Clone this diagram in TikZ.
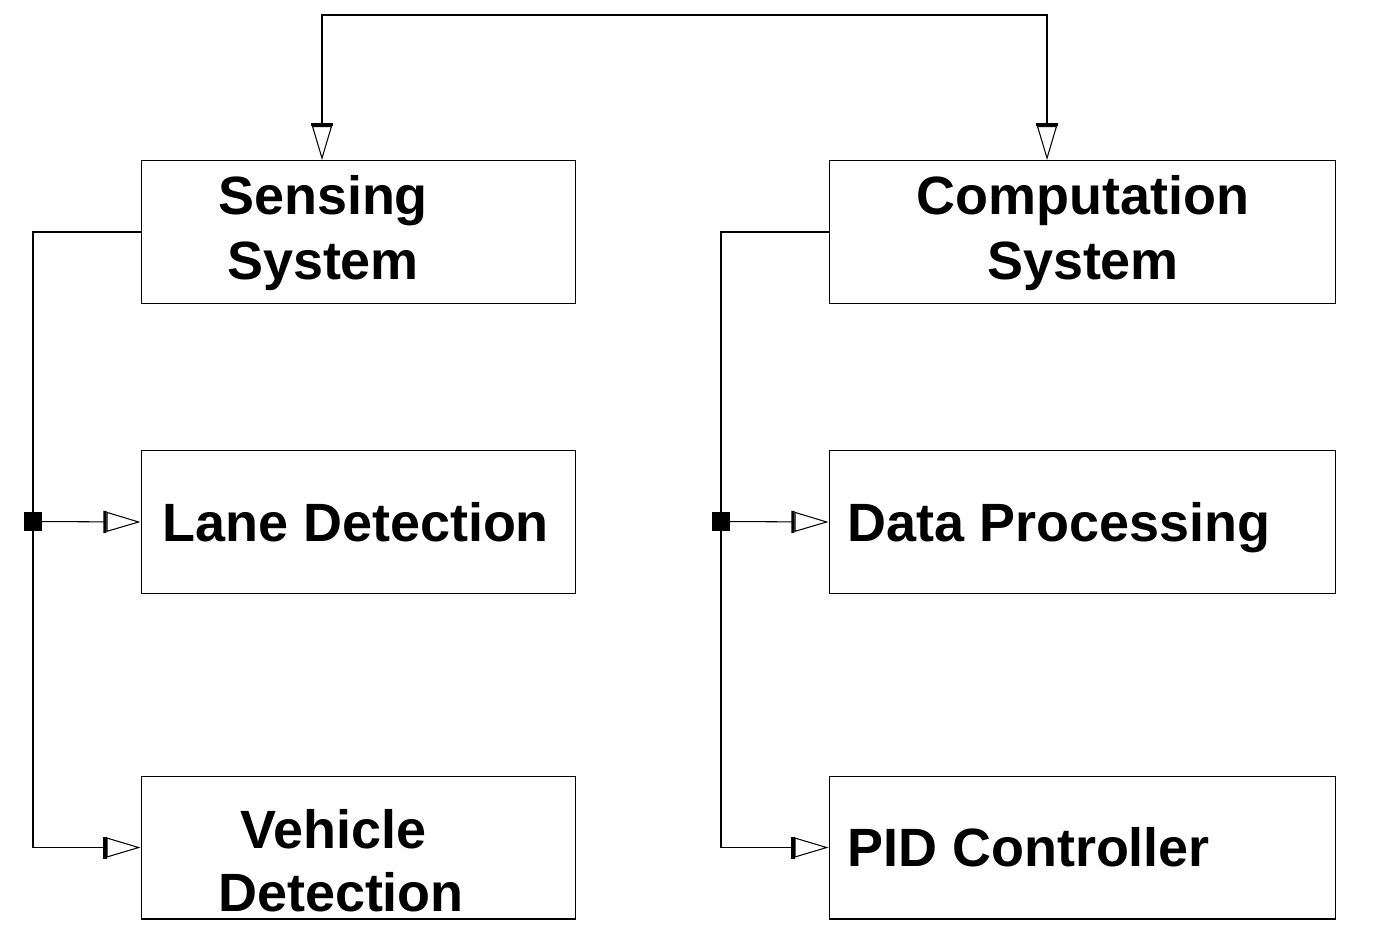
\documentclass[tikz,border=0pt]{standalone}
\usepackage{fontspec}
\setmainfont{Liberation Sans}
\usetikzlibrary{arrows.meta}
\begin{document}
\begin{tikzpicture}[x=0.02cm,y=-0.02cm,
  box/.style={draw,line width=0.6pt,inner sep=0,minimum height=2.86cm},
  lbox/.style={box,minimum width=8.7cm},
  rbox/.style={box,minimum width=10.14cm},
  lbl/.style={font=\bfseries\fontsize{30.7}{36}\selectfont,inner sep=0,anchor=base},
  lblw/.style={lbl,anchor=base west},
  wire/.style={line width=0.6pt},
  opentip/.style={-{Bar[width=0.44cm,line width=1.8pt,sep=0pt]Triangle[open,length=0.68cm,width=0.4cm,line width=0.6pt,fill=white]}},
  bothtips/.style={{Triangle[open,length=0.68cm,width=0.4cm,line width=0.6pt,fill=white]Bar[width=0.44cm,line width=1.8pt,sep=0pt]}-{Bar[width=0.44cm,line width=1.8pt,sep=0pt]Triangle[open,length=0.68cm,width=0.4cm,line width=0.6pt,fill=white]}},
  junc/.style={fill=black,draw=none,minimum size=0.37cm,inner sep=0}
]
\useasboundingbox (0,0) rectangle (1378,944);

% boxes
\node[lbox] (sens) at (358.5,232) {};
\node[rbox] (comp) at (1082.5,232) {};
\node[lbox] (lane) at (358.5,522) {};
\node[rbox] (data) at (1082.5,522) {};
\node[lbox] (veh)  at (358.5,847.5) {};
\node[rbox] (pid)  at (1082.5,847.5) {};

% labels
\node[lbl] (sensA) at (323,214) {Sensing};
\node[lbl] (sensB) at (323,279) {System};
\node[lbl] (compA) at (1083,214) {Computation};
\node[lbl] (compB) at (1083,279) {System};
\node[lblw] (laneT) at (162,541) {Lane Detection};
\node[lblw] (dataT) at (847,541) {Data Processing};
\node[lbl] (vehA) at (333.5,848) {Vehicle};
\node[lbl] (vehB) at (341,911) {Detection};
\node[lblw] (pidT) at (847,866) {PID Controller};

% top connector
\coordinate (tl) at (322,15);
\coordinate (tr) at (1047,15);
\draw[wire,bothtips] (sens.north -| tl) -- (tl) -- (tr) -- (comp.north -| tr);

% left tree
\coordinate (xl) at (33,0);
\node[junc] (jL) at (33,521.5) {};
\draw[wire,opentip] (sens.west) -| (xl |- veh.west) -- (veh.west);
\draw[wire,opentip] (jL.center) -- (lane.west);

% right tree
\coordinate (xr) at (721,0);
\node[junc] (jR) at (721,521.5) {};
\draw[wire,opentip] (comp.west) -| (xr |- pid.west) -- (pid.west);
\draw[wire,opentip] (jR.center) -- (data.west);
\end{tikzpicture}
\end{document}
